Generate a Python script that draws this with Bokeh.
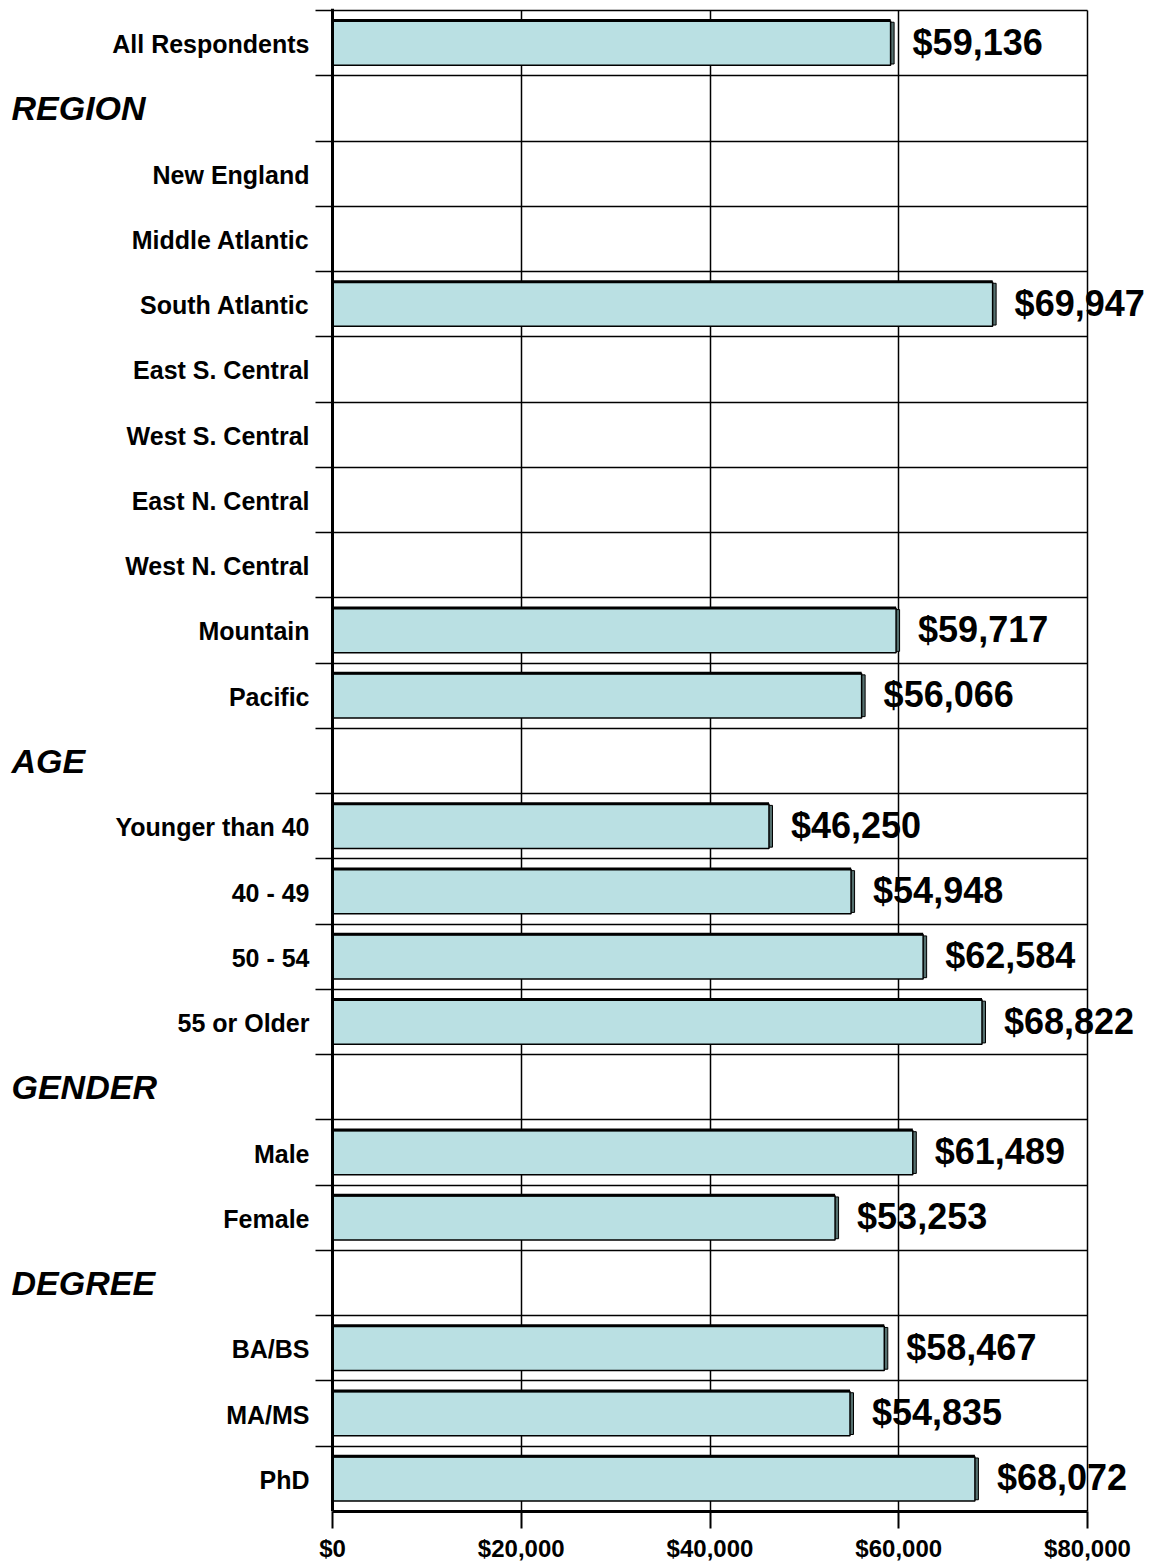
from bokeh.plotting import figure
from bokeh.models import ColumnDataSource, FixedTicker, NumeralTickFormatter, Range1d, Span
from bokeh.embed import file_html
from bokeh.resources import INLINE
from bokeh.core.properties import value

# ---- data ----
row_labels = ["All Respondents", "REGION", "New England", "Middle Atlantic", "South Atlantic",
              "East S. Central", "West S. Central", "East N. Central", "West N. Central",
              "Mountain", "Pacific", "AGE", "Younger than 40", "40 - 49", "50 - 54",
              "55 or Older", "GENDER", "Male", "Female", "DEGREE", "BA/BS", "MA/MS", "PhD"]
is_header = [False, True, False, False, False, False, False, False, False, False, False,
             True, False, False, False, False, True, False, False, True, False, False, False]
salaries = [59136, None, None, None, 69947, None, None, None, None, 59717, 56066,
            None, 46250, 54948, 62584, 68822, None, 61489, 53253, None, 58467, 54835, 68072]
x_ticks = [0, 20000, 40000, 60000, 80000]

n = len(row_labels)
ypos = [n - i - 0.5 for i in range(n)]

# ---- layout constants (pixels) ----
X_MAX = 80000
PLOT_W = 755            # pixels from $0 to $80,000
LEFT_PX = 332           # canvas px left of $0
RIGHT_PX = 66           # canvas px right of $80,000
U = X_MAX / PLOT_W      # data units per pixel
ROW_PX = 1501 / n

FONT = "Liberation Sans"
BAR_FILL = "#BAE0E3"
SIDE = "#55706F"

top_pad = 2 / ROW_PX
p = figure(frame_width=LEFT_PX + PLOT_W + RIGHT_PX, frame_height=1503,
           min_border_left=0, min_border_right=0, min_border_top=8, min_border_bottom=0,
           x_range=Range1d(-LEFT_PX * U, X_MAX + RIGHT_PX * U),
           y_range=Range1d(0, n + top_pad),
           output_backend="svg", toolbar_location=None)
p.outline_line_color = None
p.background_fill_color = "white"
p.border_fill_color = "white"
p.yaxis.visible = False

# grids
p.xgrid.ticker = FixedTicker(ticks=x_ticks[1:])
p.xgrid.grid_line_color = "black"
p.xgrid.grid_line_width = 1.5
p.xgrid.cross_bounds = (0, n)
p.ygrid.ticker = FixedTicker(ticks=list(range(n + 1)))
p.ygrid.grid_line_color = "black"
p.ygrid.grid_line_width = 1.5
p.ygrid.cross_bounds = (-17 * U, X_MAX)

# left axis line
p.add_layout(Span(location=0, dimension="height", line_color="black", line_width=3))

# x axis
xa = p.xaxis[0]
xa.bounds = (0, X_MAX)
xa.ticker = FixedTicker(ticks=x_ticks)
xa.formatter = NumeralTickFormatter(format="$0,0")
xa.axis_line_width = 3
xa.major_tick_out = 17
xa.major_tick_in = 0
xa.major_tick_line_width = 2
xa.minor_tick_line_color = None
xa.major_label_text_font = FONT
xa.major_label_text_font_style = "bold"
xa.major_label_text_font_size = "24px"
xa.major_label_text_color = "black"
xa.major_label_standoff = 6

# bars
bx, by, bl = [], [], []
for y, v in zip(ypos, salaries):
    if v is not None:
        bx.append(v)
        by.append(y)
        bl.append("${:,}".format(v))
bars = ColumnDataSource(dict(y=by, right=bx, side=[v + 3.5 * U for v in bx], lab=bl,
                             top=[y + 0.345 for y in by]))

p.hbar(y="y", left=0, right="side", height=0.64, source=bars,
       fill_color=SIDE, line_color="black", line_width=1)
p.hbar(y="y", left=0, right="right", height=0.68, source=bars,
       fill_color=BAR_FILL, line_color="black", line_width=1.5)
p.segment(x0=0, y0="top", x1="right", y1="top", source=bars, line_color="black", line_width=3)

# value labels
p.text(x="right", y="y", text="lab", source=bars, x_offset=22, y_offset=-1,
       text_font=value(FONT), text_font_style="bold", text_font_size="36px",
       text_align="left", text_baseline="middle", text_color="black")

# category labels
cats = ColumnDataSource(dict(
    y=[y for y, h in zip(ypos, is_header) if not h],
    t=[l for l, h in zip(row_labels, is_header) if not h]))
p.text(x=0, y="y", text="t", source=cats, x_offset=-23, y_offset=1,
       text_font=value(FONT), text_font_style="bold", text_font_size="25px",
       text_align="right", text_baseline="middle", text_color="black")

heads = ColumnDataSource(dict(
    y=[y for y, h in zip(ypos, is_header) if h],
    t=[l for l, h in zip(row_labels, is_header) if h]))
p.text(x=-LEFT_PX * U, y="y", text="t", source=heads, x_offset=11,
       text_font=value(FONT), text_font_style="bold italic", text_font_size="34px",
       text_align="left", text_baseline="middle", text_color="black")

open("out.html", "w").write(file_html(p, INLINE))
